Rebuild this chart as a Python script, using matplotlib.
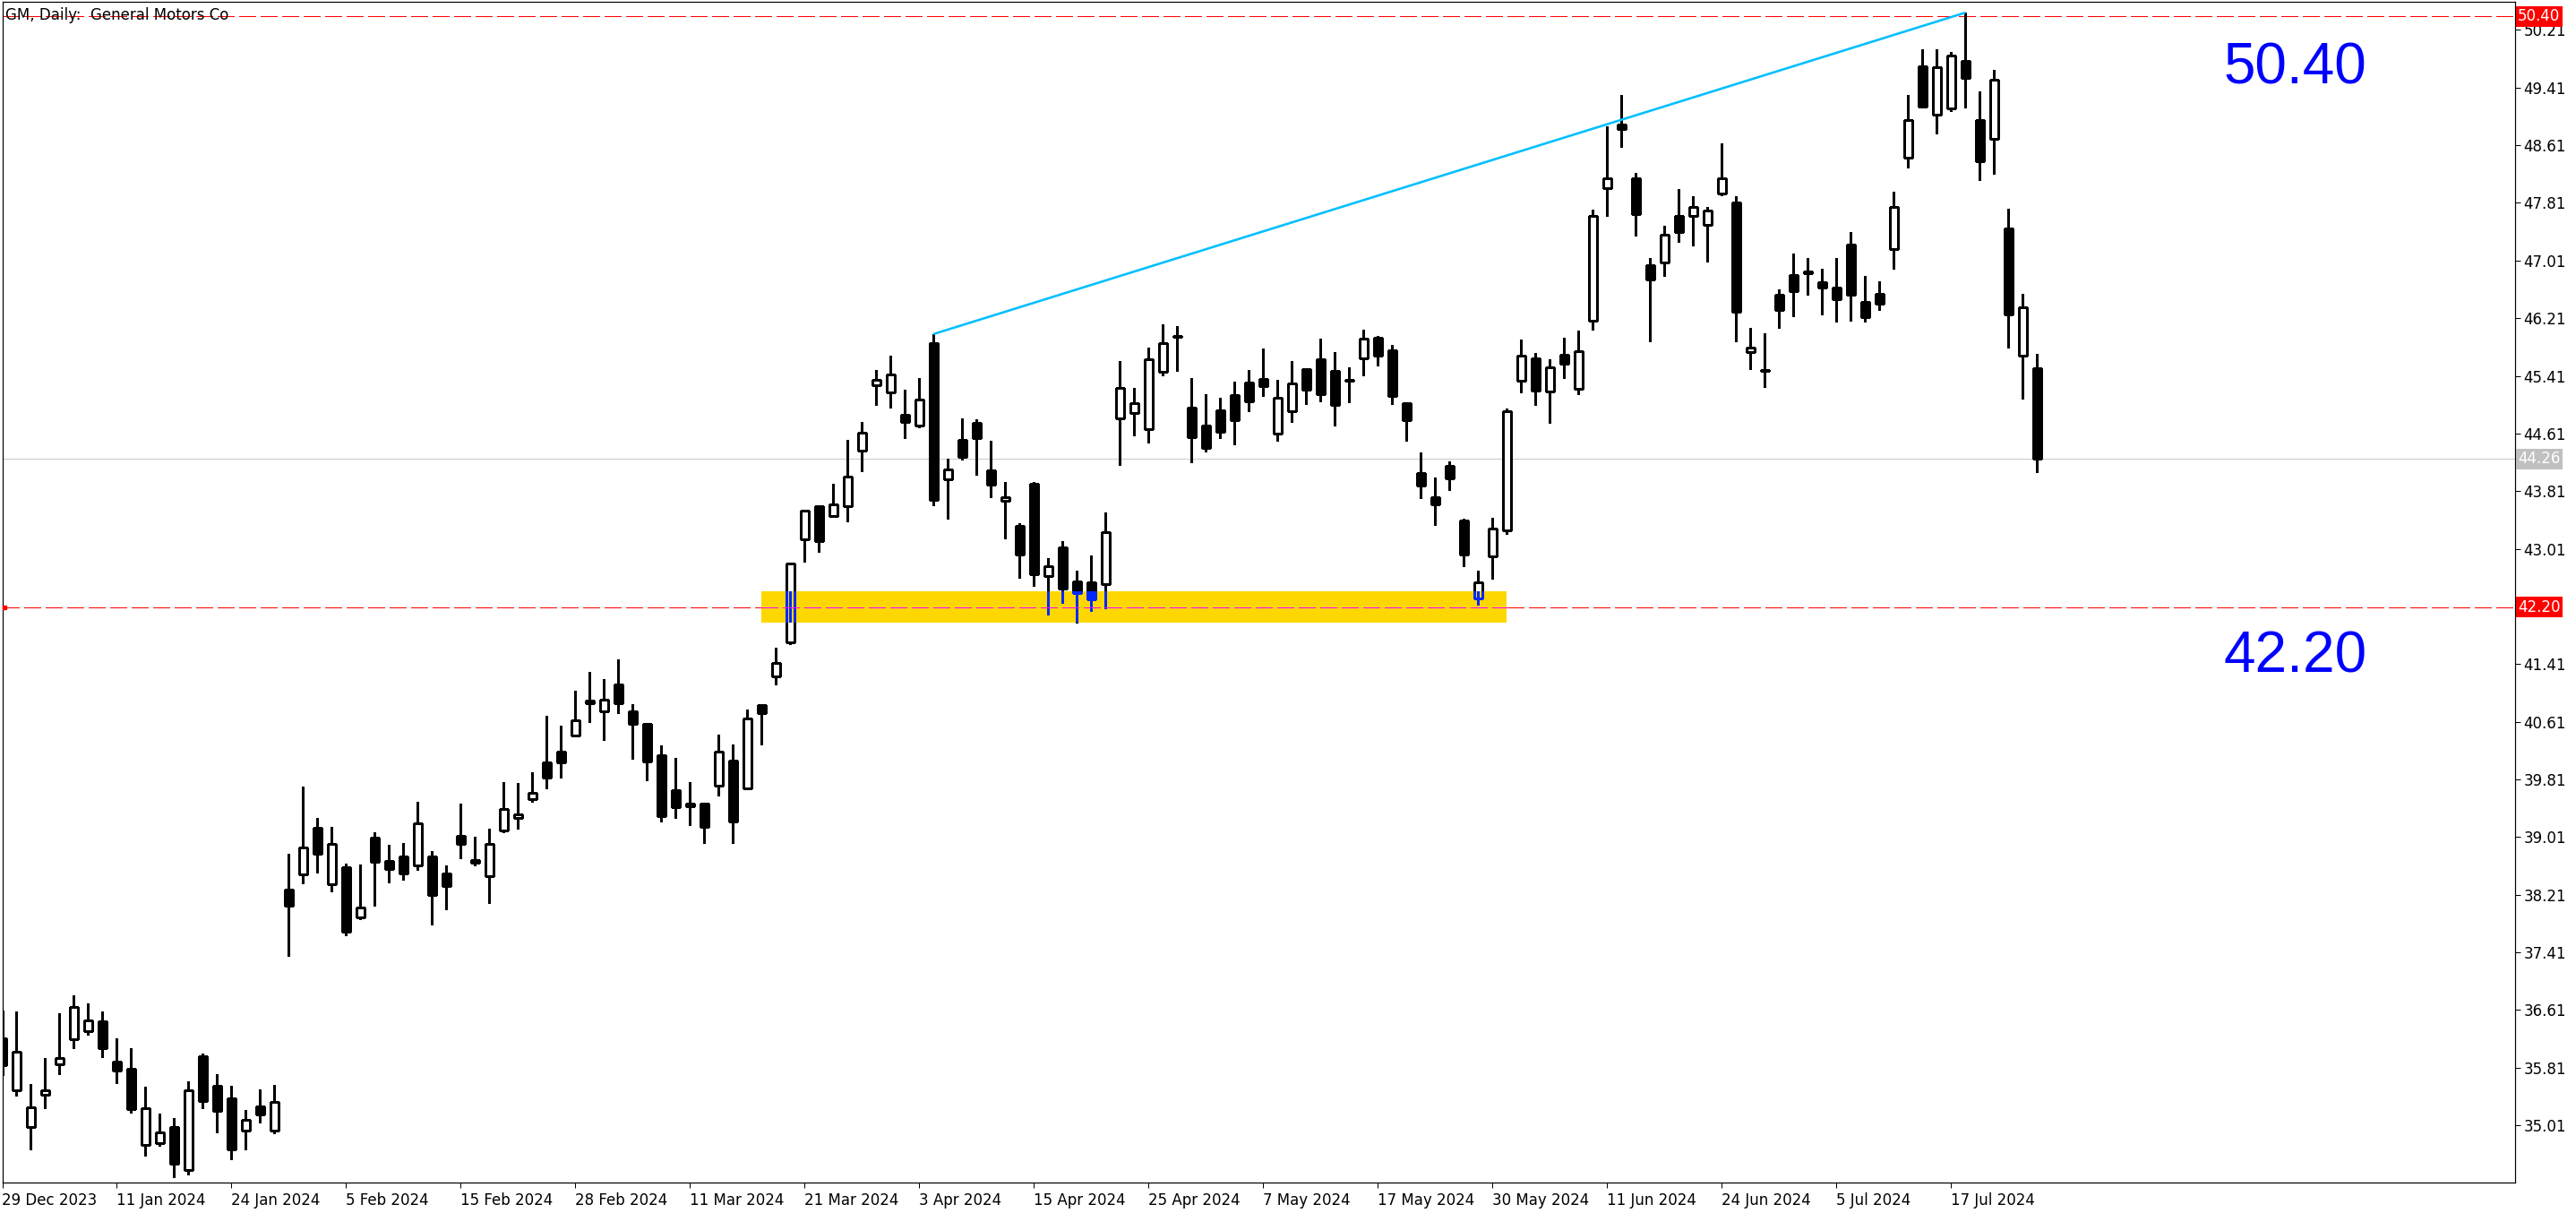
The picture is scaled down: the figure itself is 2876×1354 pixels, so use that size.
import matplotlib
matplotlib.use('Agg')
import matplotlib.pyplot as plt
import matplotlib.patches as patches
import matplotlib.transforms as transforms
from matplotlib.collections import LineCollection, PatchCollection

# GM daily candles, one entry per trading day from 29 Dec 2023 to 25 Jul 2024.
opens = [36.22, 35.49, 34.98, 35.43, 35.85, 36.20, 36.31, 36.45, 35.89, 35.79,
         34.73, 34.76, 34.98, 34.39, 35.97, 35.56, 35.38, 34.93, 35.27, 34.93,
         38.28, 38.49, 39.14, 38.35, 38.59, 37.89, 39.00, 38.68, 38.74, 38.61,
         38.74, 38.50, 39.03, 38.65, 38.46, 39.10, 39.28, 39.53, 40.05, 40.19,
         40.42, 40.90, 40.75, 41.13, 40.75, 40.58, 40.15, 39.66, 39.44, 39.47,
         39.72, 40.07, 39.69, 40.84, 41.24, 41.71, 43.14, 43.60, 43.46, 43.60,
         44.37, 45.28, 45.18, 44.87, 44.72, 45.86, 43.98, 44.52, 44.76, 44.10,
         43.67, 43.33, 43.91, 42.63, 43.03, 42.56, 42.54, 42.52, 44.82, 44.89,
         44.67, 45.46, 45.96, 44.97, 44.72, 44.93, 45.14, 45.32, 45.37, 44.61,
         44.92, 45.50, 45.64, 45.48, 45.35, 45.65, 45.94, 45.77, 45.03, 44.06,
         43.73, 44.16, 43.40, 42.32, 42.91, 43.26, 45.34, 45.65, 45.19, 45.70,
         45.23, 46.17, 48.02, 48.90, 48.15, 46.94, 46.98, 47.63, 47.63, 47.51,
         47.94, 47.82, 45.74, 45.49, 46.54, 46.81, 46.83, 46.71, 46.63, 47.23,
         46.44, 46.55, 47.17, 48.44, 49.71, 49.04, 49.12, 49.78, 48.96, 48.70,
         47.45, 45.69, 45.52]
highs = [36.60, 36.59, 35.58, 35.94, 36.56, 36.81, 36.70, 36.59, 36.22, 36.08,
         35.55, 35.17, 35.11, 35.62, 36.00, 35.72, 35.56, 35.22, 35.51, 35.57,
         38.78, 39.71, 39.28, 39.15, 38.64, 38.63, 39.08, 38.90, 38.93, 39.50,
         38.82, 38.62, 39.47, 39.01, 39.13, 39.77, 39.76, 39.91, 40.69, 40.56,
         41.04, 41.30, 41.20, 41.48, 40.85, 40.59, 40.28, 40.11, 39.77, 39.48,
         40.43, 40.29, 40.78, 40.85, 41.64, 42.81, 43.55, 43.61, 43.91, 44.52,
         44.77, 45.49, 45.69, 45.22, 45.38, 45.99, 44.26, 44.82, 44.81, 44.51,
         43.94, 43.37, 43.94, 42.88, 43.12, 42.71, 42.92, 43.51, 45.62, 45.24,
         45.80, 46.13, 46.10, 45.38, 45.16, 45.11, 45.33, 45.49, 45.79, 45.35,
         45.62, 45.51, 45.93, 45.74, 45.53, 46.05, 45.96, 45.84, 45.04, 44.35,
         44.00, 44.22, 43.43, 42.71, 43.44, 44.96, 45.91, 45.73, 45.64, 45.94,
         46.04, 47.72, 48.87, 49.31, 48.23, 47.04, 47.49, 48.00, 47.90, 47.76,
         48.64, 47.90, 46.08, 46.00, 46.61, 47.11, 47.04, 46.90, 47.05, 47.41,
         46.80, 46.72, 47.96, 49.31, 49.94, 49.94, 49.91, 50.45, 49.36, 49.66,
         47.73, 46.55, 45.72]
lows = [35.70, 35.42, 34.67, 35.25, 35.72, 36.08, 36.27, 35.96, 35.59, 35.18,
        34.59, 34.72, 34.29, 34.33, 35.25, 34.91, 34.54, 34.68, 35.05, 34.90,
        37.36, 38.37, 38.51, 38.26, 37.65, 37.87, 38.06, 38.38, 38.42, 38.55,
        37.80, 38.01, 38.72, 38.61, 38.09, 39.07, 39.12, 39.50, 39.69, 39.83,
        40.40, 40.60, 40.35, 40.73, 40.10, 39.80, 39.22, 39.28, 39.18, 38.93,
        39.58, 38.92, 39.68, 40.30, 41.13, 41.69, 42.83, 42.97, 43.45, 43.39,
        44.08, 45.01, 44.97, 44.55, 44.69, 43.61, 43.43, 44.25, 44.04, 43.73,
        43.15, 42.61, 42.49, 42.10, 42.26, 41.98, 42.15, 42.18, 44.17, 44.58,
        44.49, 45.42, 45.48, 44.21, 44.36, 44.54, 44.46, 44.92, 45.13, 44.51,
        44.77, 45.02, 45.05, 44.72, 45.04, 45.42, 45.55, 45.02, 44.51, 43.71,
        43.34, 43.83, 42.77, 42.23, 42.59, 43.22, 45.18, 45.00, 44.76, 45.38,
        45.16, 46.05, 47.63, 48.59, 47.35, 45.89, 46.80, 47.27, 47.22, 47.00,
        47.92, 45.89, 45.50, 45.26, 46.08, 46.24, 46.54, 46.26, 46.16, 46.17,
        46.16, 46.33, 46.90, 48.30, 49.14, 48.77, 49.08, 49.13, 48.13, 48.21,
        45.80, 45.09, 44.07]
closes = [35.84, 36.03, 35.26, 35.49, 35.94, 36.65, 36.47, 36.08, 35.77, 35.23,
          35.24, 34.91, 34.47, 35.49, 35.34, 35.21, 34.67, 35.09, 35.16, 35.33,
          38.06, 38.86, 38.78, 38.91, 37.69, 38.03, 38.67, 38.57, 38.50, 39.20,
          38.20, 38.33, 38.91, 38.69, 38.91, 39.40, 39.32, 39.62, 39.83, 40.04,
          40.63, 40.87, 40.91, 40.87, 40.58, 40.06, 39.30, 39.42, 39.47, 39.15,
          40.20, 39.22, 40.66, 40.73, 41.42, 42.80, 43.54, 43.12, 43.62, 44.01,
          44.62, 45.36, 45.43, 44.77, 45.08, 43.69, 44.11, 44.29, 44.54, 43.90,
          43.73, 42.93, 42.66, 42.77, 42.46, 42.39, 42.31, 43.24, 45.24, 45.03,
          45.64, 45.86, 45.95, 44.56, 44.41, 44.63, 44.79, 45.06, 45.27, 45.10,
          45.30, 45.22, 45.16, 45.01, 45.34, 45.92, 45.69, 45.13, 44.80, 43.89,
          43.62, 43.99, 42.93, 42.55, 43.29, 44.92, 45.69, 45.21, 45.53, 45.58,
          45.75, 47.63, 48.15, 48.84, 47.66, 46.75, 47.37, 47.41, 47.76, 47.71,
          48.15, 46.30, 45.80, 45.48, 46.33, 46.58, 46.86, 46.64, 46.47, 46.54,
          46.23, 46.41, 47.75, 48.96, 49.15, 49.69, 49.86, 49.54, 48.39, 49.52,
          46.26, 46.36, 44.26]

date_labels = ['29 Dec 2023', '11 Jan 2024', '24 Jan 2024', '5 Feb 2024', '15 Feb 2024',
               '28 Feb 2024', '11 Mar 2024', '21 Mar 2024', '3 Apr 2024', '15 Apr 2024',
               '25 Apr 2024', '7 May 2024', '17 May 2024', '30 May 2024', '11 Jun 2024',
               '24 Jun 2024', '5 Jul 2024', '17 Jul 2024']
label_step = 8  # bars between date labels

price_ticks = [35.01, 35.81, 36.61, 37.41, 38.21, 39.01, 39.81, 40.61, 41.41,
               43.01, 43.81, 44.61, 45.41, 46.21, 47.01, 47.81, 48.61, 49.41, 50.21]

levels = [50.40, 42.20]      # red dashed horizontal lines
trend_bars = [65, 137]       # trend line joins the highs of these bars
zone_bars = [52.95, 105.0]   # yellow support zone
zone_prices = [41.985, 42.42]

W, H = 2876, 1354
DPI = 100
PX = 72.0 / DPI  # one pixel in points

BLUE_INV = '#0028ff'
GOLD = '#ffd700'


def draw_candles(ax, edge, up_face, down_face, zorder, clip=None):
    segs = [[(i, lo), (i, hi)] for i, (hi, lo) in enumerate(zip(highs, lows))]
    wicks = LineCollection(segs, colors=edge, linewidths=1.3 * PX, zorder=zorder, antialiaseds=False)
    bodies = []
    faces = []
    bw = 0.56
    for i, (o, c) in enumerate(zip(opens, closes)):
        bodies.append(patches.Rectangle((i - bw / 2, min(o, c)), bw, abs(c - o)))
        faces.append(up_face if c > o else down_face)
    pc = PatchCollection(bodies, facecolors=faces, edgecolors=edge, linewidths=1.3 * PX,
                         zorder=zorder + 0.1, antialiaseds=False)
    ax.add_collection(wicks)
    ax.add_collection(pc)
    if clip is not None:
        wicks.set_clip_path(clip)
        pc.set_clip_path(clip)


fig = plt.figure(figsize=(W / DPI, H / DPI), dpi=DPI)
fig.patch.set_facecolor('white')

left, right, top, bottom = 2.5, 2808, 2, 1320
ax = fig.add_axes([left / W, 1 - bottom / H, (right - left) / W, (bottom - top) / H])

ax.set_xlim(0.02, 175.37)
ax.set_ylim(34.214, 50.601)

# plain candles
draw_candles(ax, 'black', 'white', 'black', zorder=2)

# horizontal lines
plt.rcParams['lines.scale_dashes'] = False
for lvl in levels:
    ax.axhline(lvl, color='red', lw=1.2 * PX, dashes=(13, 4.3), zorder=1.5, antialiased=False)
ax.axhline(closes[-1], color='#c8c8c8', lw=PX, zorder=1.4)

# yellow zone, candles inside are drawn inverted (blue)
zone = patches.Rectangle((zone_bars[0], zone_prices[0]), zone_bars[1] - zone_bars[0],
                         zone_prices[1] - zone_prices[0], fc=GOLD, ec='none', zorder=4)
ax.add_patch(zone)
draw_candles(ax, BLUE_INV, (0, 0, 0, 0), BLUE_INV, zorder=5, clip=zone)
ax.plot([zone_bars[0], zone_bars[1]], [levels[1], levels[1]], color='#ff00ff', lw=1.2 * PX,
        dashes=(13, 4.3), zorder=6, clip_path=zone, antialiased=False)

# trend line over the highs
ax.plot(trend_bars, [highs[i] for i in trend_bars], color='#00bfff', lw=2.6 * PX, zorder=7,
        solid_capstyle='butt')

# small marker at the left end of the 42.20 line
ax.plot([0.15], [levels[1]], 's', color='red', ms=3, zorder=8, clip_on=False)

# big level labels
for lvl, y in zip(levels, [49.67, 41.50]):
    ax.text(160, y, '%.2f' % lvl, color='blue', fontsize=46, family='Liberation Sans',
            ha='center', va='center', zorder=8)

ax.text(0.0012, 0.9955, 'GM, Daily:  General Motors Co', transform=ax.transAxes,
        ha='left', va='top', fontsize=12, color='black', zorder=9)

# axes styling
for sp in ax.spines.values():
    sp.set_linewidth(1.2 * PX)
    sp.set_color('black')

ax.set_xticks([i * label_step for i in range(len(date_labels))])
ax.set_xticklabels(date_labels, ha='left', fontsize=12)
ax.tick_params(axis='x', direction='out', length=4, width=PX, pad=4)

ax.yaxis.tick_right()
ax.set_yticks(price_ticks)
ax.set_yticklabels(['%.2f' % p for p in price_ticks], fontsize=12)
ax.tick_params(axis='y', direction='out', length=4, width=PX, pad=3)

# price boxes on the axis
trans = transforms.blended_transform_factory(fig.transFigure, ax.transData)
for lvl in levels:
    ax.text(2811 / W, lvl, '%.2f' % lvl, transform=trans, color='white', fontsize=12,
            ha='left', va='center', clip_on=False, zorder=10,
            bbox=dict(boxstyle='square,pad=0.15', fc='red', ec='none'))
ax.text(2811 / W, closes[-1], '%.2f' % closes[-1], transform=trans, color='white', fontsize=12,
        ha='left', va='center', clip_on=False, zorder=10,
        bbox=dict(boxstyle='square,pad=0.15', fc='#c0c0c0', ec='none'))

fig.savefig('out.png', dpi=DPI)
plt.close(fig)
